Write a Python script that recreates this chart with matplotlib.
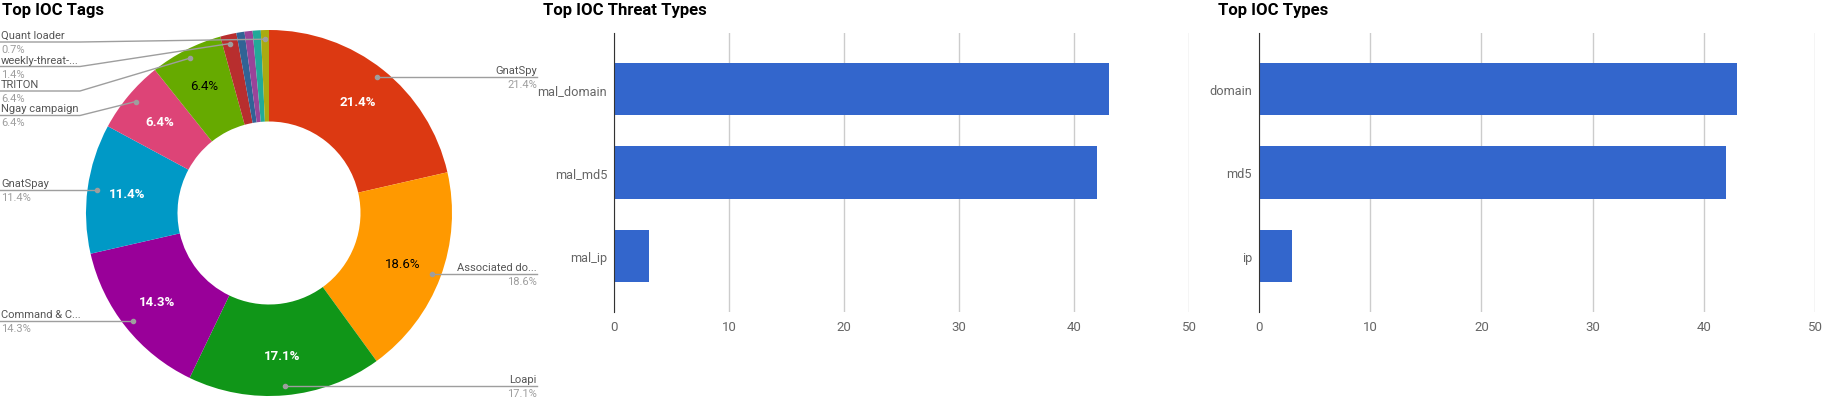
import matplotlib
matplotlib.use("Agg")
import matplotlib.pyplot as plt
import numpy as np

W, H = 1827, 402

# donut: top IOC tags (counts out of 140); "" = slice shown without a label
tag_names = ["GnatSpy", "Associated do...", "Loapi", "Command & C...", "GnatSpay",
             "Ngay campaign", "TRITON", "weekly-threat-...", "", "", "", "Quant loader"]
tag_counts = [30, 26, 24, 20, 16, 9, 9, 2, 1, 1, 1, 1]
tag_colors = ["#dc3912", "#ff9900", "#109618", "#990099", "#0099c6", "#dd4477",
              "#66aa00", "#b82e2e", "#316395", "#994499", "#22aa99", "#aaaa11"]

threat_types = ["mal_domain", "mal_md5", "mal_ip"]
threat_counts = [43, 42, 3]
ioc_types = ["domain", "md5", "ip"]
ioc_counts = [43, 42, 3]
x_ticks = [0, 10, 20, 30, 40, 50]

plt.rcParams["font.family"] = ["Roboto", "DejaVu Sans"]

fig = plt.figure(figsize=(W / 100, H / 100), dpi=100)


def px_axes(x0, y0, x1, y1):
    # box given in image pixels, y measured from the top
    return fig.add_axes([x0 / W, 1 - y1 / H, (x1 - x0) / W, (y1 - y0) / H])


def title(x, text):
    fig.text(x / W, 1 - 11 / H, text, fontsize=12, fontweight="bold",
             color="#000000", ha="left", va="center")


# ---- donut ----
ax = px_axes(0, 0, 560, H)
cx, cy, R = 269, H - 214, 183
wedges, _ = ax.pie(tag_counts, colors=tag_colors, startangle=90, counterclock=False,
                   radius=R, center=(cx, cy),
                   wedgeprops=dict(width=R * 0.5, linewidth=0))
ax.set_xlim(0, 560)
ax.set_ylim(0, H)
ax.axis("off")

total = sum(tag_counts)
line_c, name_c, pct_c = "#9e9e9e", "#555555", "#9e9e9e"
left = []
for w, name, n, col in zip(wedges, tag_names, tag_counts, tag_colors):
    th = np.deg2rad((w.theta1 + w.theta2) / 2)
    pct = f"{n / total * 100:.1f}%"
    share = n / total
    if share > 0.05:
        rgb = matplotlib.colors.to_rgb(col)
        lum = 0.2126 * rgb[0] + 0.7152 * rgb[1] + 0.0722 * rgb[2]
        dark = lum > 0.5
        ax.text(cx + 0.78 * R * np.cos(th), cy + 0.78 * R * np.sin(th), pct,
                ha="center", va="center", fontsize=9.5,
                color="#000000" if dark else "white",
                fontweight="normal" if dark else "bold")
    if not name:
        continue
    dx, dy = cx + 0.95 * R * np.cos(th), cy + 0.95 * R * np.sin(th)
    if np.cos(th) >= 0:
        ax.plot([dx, 537], [dy, dy], color=line_c, lw=1)
        ax.plot(dx, dy, "o", ms=3, color=line_c)
        ax.text(537, dy + 2, name, ha="right", va="bottom", fontsize=8, color=name_c)
        ax.text(537, dy - 2, pct, ha="right", va="top", fontsize=8, color=pct_c)
    else:
        left.append((dx, dy, name, pct))

# stack left labels from the top so they don't collide
prev = None
for dx, dy, name, pct in sorted(left, key=lambda t: -t[1]):
    ly = min(dy, H - 43)
    if prev is not None:
        ly = min(ly, prev - 24.5)
    prev = ly
    ax.plot([0, 80, dx] if ly != dy else [0, dx], [ly, ly, dy] if ly != dy else [ly, dy],
            color=line_c, lw=1)
    ax.plot(dx, dy, "o", ms=3, color=line_c)
    ax.text(1, ly + 2, name, ha="left", va="bottom", fontsize=8, color=name_c)
    ax.text(1, ly - 2, pct, ha="left", va="top", fontsize=8, color=pct_c)

title(2, "Top IOC Tags")


# ---- bar panels ----
def bar_panel(x0, x1, tx, cats, vals, text):
    ax = px_axes(x0, 34, x1, 313)
    y = np.arange(len(cats))
    ax.barh(y, vals, height=0.63, color="#3366cc", zorder=2)
    ax.set_ylim(len(cats) - 1 + 0.67, -0.67)
    ax.set_xlim(0, 50)
    ax.set_xticks(x_ticks)
    ax.set_yticks(y, cats)
    ax.grid(axis="x", color="#cccccc", linewidth=1, zorder=0)
    ax.set_axisbelow(True)
    for s in ["top", "right", "bottom"]:
        ax.spines[s].set_visible(False)
    ax.spines["left"].set_color("#333333")
    ax.spines["left"].set_zorder(3)
    ax.tick_params(axis="x", length=0, labelsize=9.5, colors="#666666", pad=6)
    ax.tick_params(axis="y", length=0, labelsize=9.2, colors="#666666", pad=5)
    title(tx, text)


bar_panel(614, 1189, 543, threat_types, threat_counts, "Top IOC Threat Types")
bar_panel(1259, 1815, 1218, ioc_types, ioc_counts, "Top IOC Types")

fig.savefig("out.png", dpi=100)
